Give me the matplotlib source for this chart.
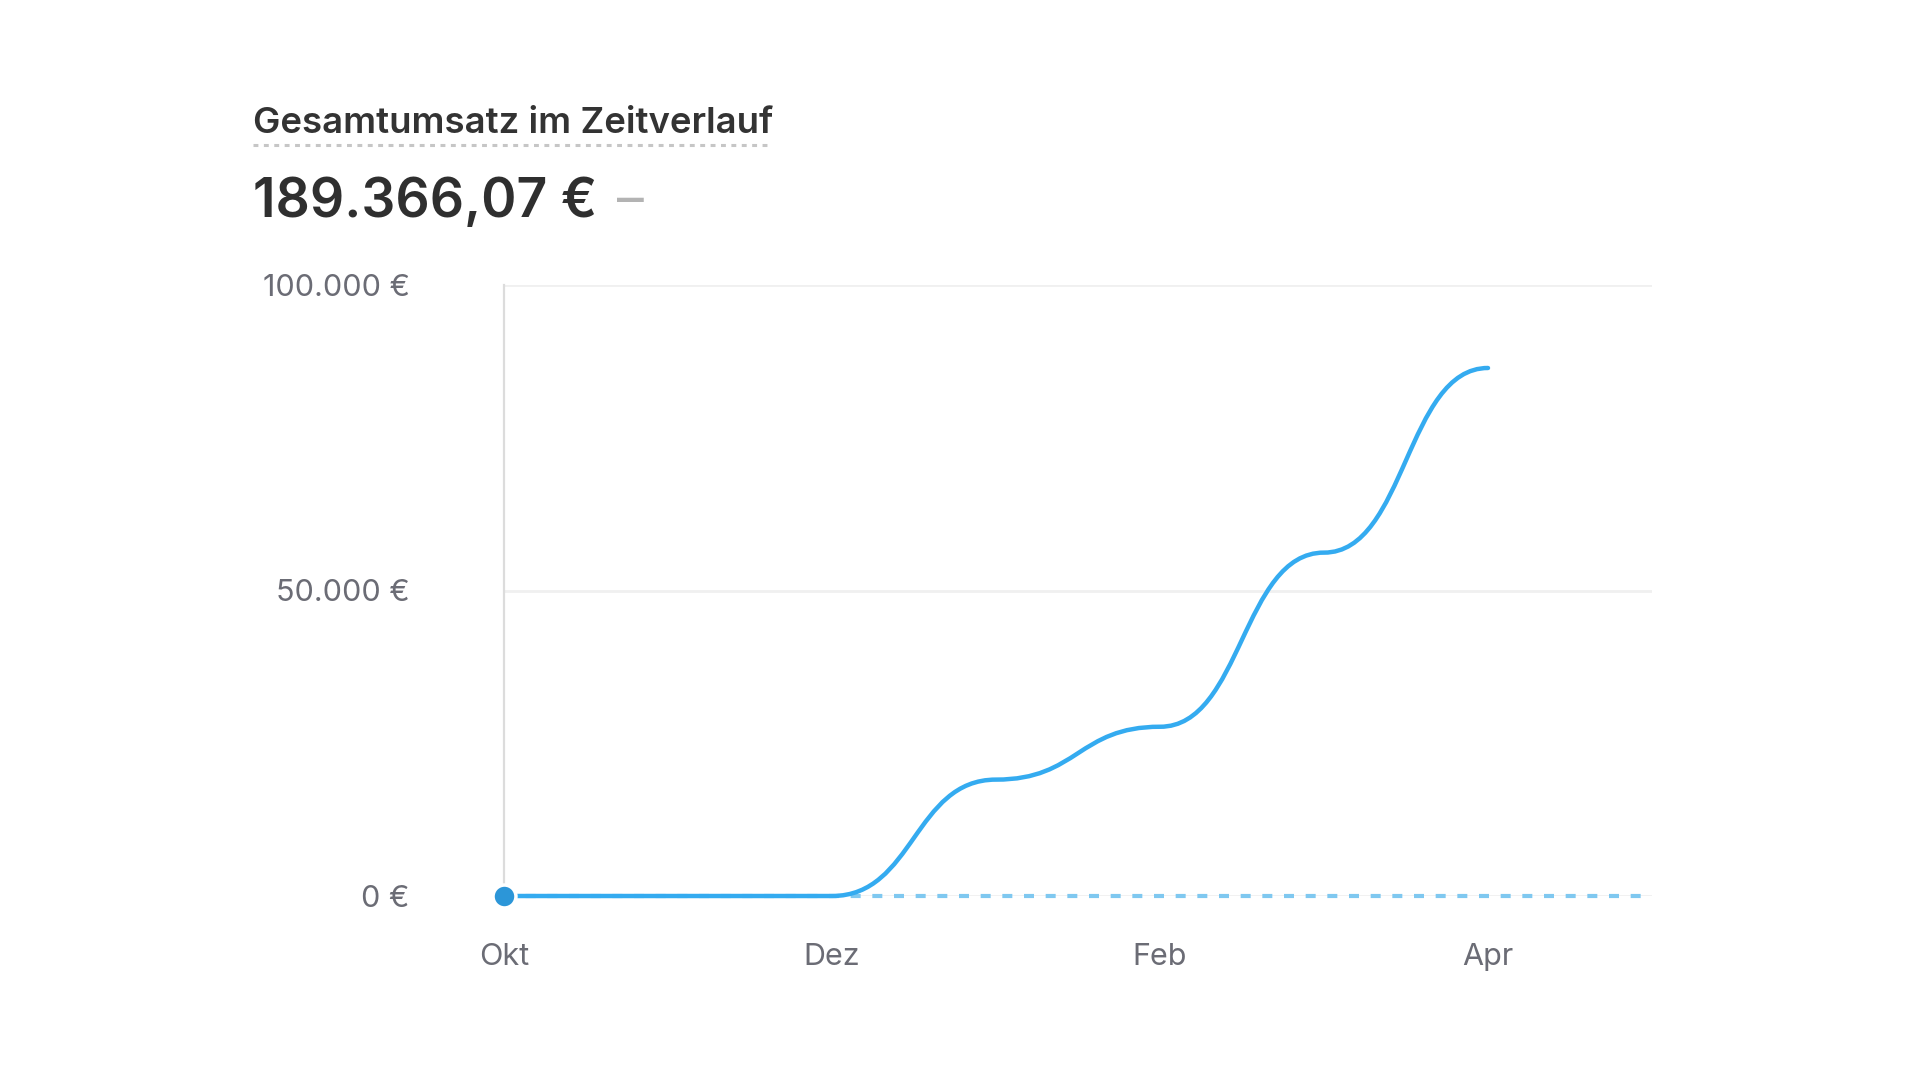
import numpy as np
import matplotlib.pyplot as plt
from matplotlib.path import Path
from matplotlib.patches import PathPatch
from matplotlib.lines import Line2D

plt.rcParams['font.family'] = ['Inter', 'DejaVu Sans']

# Monatsumsatz (EUR), Okt .. Apr
months = ['Okt', 'Nov', 'Dez', 'Jan', 'Feb', 'Mär', 'Apr', 'Mai']
revenue = [0, 0, 0, 19050, 27700, 56200, 86416.07]
# Vergleichszeitraum (gestrichelt)
prev_revenue = [0, 0, 0, 0, 0, 0, 0, 0]

total_label = '189.366,07 €'
title = 'Gesamtumsatz im Zeitverlauf'
yticks = [0, 50000, 100000]
ytick_labels = ['0 €', '50.000 €', '100.000 €']
xticks = [0, 2, 4, 6]

LINE = '#34abf0'
DOT = '#2c96d8'
DASH = '#7fc8f0'
GRID = '#f0f0f0'
TXT = '#6b6c75'

fig = plt.figure(figsize=(19.2, 10.8), dpi=100)
ax = fig.add_axes([504/1920, 1-896/1080, (1652-504)/1920, (896-285)/1080])

x = np.arange(len(revenue))
xp = np.arange(len(prev_revenue))

# gridlines
for v in yticks:
    ax.axhline(v, color=GRID, lw=2, zorder=0)

# previous period, dotted
ax.plot(xp, prev_revenue, color=DASH, lw=3, dashes=(2.4, 2.8), zorder=2,
        solid_capstyle='butt', dash_capstyle='butt', clip_on=False)

# current period: smooth "bump" curve, horizontal tangent at each point
verts = [(x[0], revenue[0])]
codes = [Path.MOVETO]
for i in range(1, len(revenue)):
    xm = (x[i-1] + x[i]) / 2
    verts += [(xm, revenue[i-1]), (xm, revenue[i]), (x[i], revenue[i])]
    codes += [Path.CURVE4] * 3
ax.add_patch(PathPatch(Path(verts, codes), fill=False, edgecolor=LINE, lw=3.2,
                       capstyle='round', zorder=3, clip_on=False))
ax.plot([x[0]], [revenue[0]], 'o', ms=16.5, color=DOT, mec='white', mew=2.5,
        zorder=4, clip_on=False)

ax.set_xlim(0, len(months) - 1)
ax.set_ylim(0, 100000)
ax.set_xticks(xticks)
ax.set_xticklabels([months[i] for i in xticks])
ax.set_yticks(yticks)
ax.set_yticklabels(ytick_labels)
ax.tick_params(length=0, labelsize=22, labelcolor=TXT)
ax.tick_params(axis='x', pad=34)
ax.tick_params(axis='y', pad=68)

for s in ['top', 'right', 'bottom']:
    ax.spines[s].set_visible(False)
ax.spines['left'].set_color('#dcdcdc')
ax.spines['left'].set_linewidth(1.6)
ax.spines['left'].set_zorder(1)

# header
fig.text(253/1920, 1-133/1080, title, fontsize=26.3, fontweight='semibold',
         color='#333333', va='baseline', ha='left')
fig.add_artist(Line2D([253/1920, 771/1920], [1-145/1080, 1-145/1080],
                      color='#c6c6c6', lw=2.2, dashes=(1.6, 1.8)))
fig.text(253/1920, 1-217/1080, total_label, fontsize=38.5, fontweight='semibold',
         color='#2f2f2f', va='baseline', ha='left')
fig.text(617/1920, 1-217/1080, '–', fontsize=38.5, color='#b3b3b3',
         va='baseline', ha='left')

fig.savefig('out.png', dpi=100, facecolor='white')
